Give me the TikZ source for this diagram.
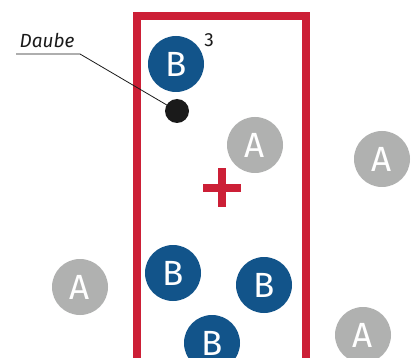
\documentclass[tikz,border=0pt]{standalone}
\usepackage{fontspec}
\setmainfont{Fira Sans}
\definecolor{boxred}{HTML}{CC1F36}
\definecolor{bblue}{HTML}{12548A}
\definecolor{agray}{HTML}{B0B1B0}
\definecolor{dotblack}{HTML}{1A1A1A}
\begin{document}
\begin{tikzpicture}[x=1pt,y=-1pt,
  ball/.style={circle,minimum size=56pt,inner sep=0pt,text=white,font=\fontsize{35}{35}\selectfont},
  aball/.style={ball,fill=agray},
  bball/.style={ball,fill=bblue},
  lbl/.style={font=\fontsize{19}{19}\selectfont\itshape,text=dotblack,inner sep=0pt}]
\useasboundingbox (0,0) rectangle (412,358);
\fill[white] (0,0) rectangle (412,358);
\draw[boxred,line width=8pt] (137,16) rectangle (306,362);
\node[bball] (b1) at (176,64) {B};
\node[font=\fontsize{19}{19}\selectfont,text=dotblack,inner sep=0pt] (three) at (209,40) {3};
\node[circle,fill=dotblack,minimum size=24pt,inner sep=0pt] (dot) at (177,111) {};
\node[lbl] (daube) at (47,40) {Daube};
\coordinate (u1) at (16,54);
\coordinate (u2) at (80,54);
\draw[dotblack,line width=0.8pt] (u1) -- (u2) -- (dot.center);
\node[aball] (a1) at (255,145) {A};
\fill[boxred] (203,184) rectangle (241,192);
\fill[boxred] (218,168) rectangle (226,207);
\node[aball] (a2) at (382,159) {A};
\node[bball] (b2) at (173,273) {B};
\node[bball] (b3) at (264,285) {B};
\node[bball] (b4) at (212,343) {B};
\node[aball] (a3) at (80,287) {A};
\node[aball] (a4) at (363,335) {A};
\end{tikzpicture}
\end{document}
